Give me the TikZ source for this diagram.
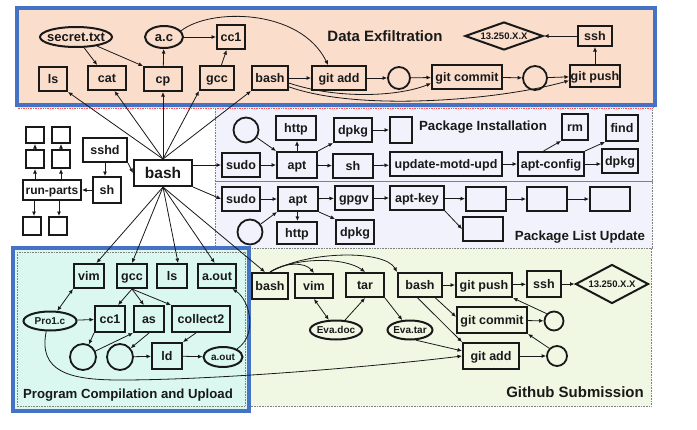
\documentclass[tikz,border=0pt]{standalone}
\usepackage{fontspec}
\setmainfont{Liberation Sans}
\usetikzlibrary{shapes.geometric,arrows.meta}
\newcommand\zb[1]{\makebox[0pt]{#1}}
\definecolor{peach}{RGB}{251,221,204}
\definecolor{lav}{RGB}{241,242,251}
\definecolor{lgreen}{RGB}{240,248,228}
\definecolor{lcyan}{RGB}{218,248,240}
\definecolor{frameblue}{RGB}{68,114,196}
\definecolor{ink}{RGB}{25,25,25}
\begin{document}
\begin{tikzpicture}[x=1pt,y=-1pt,
 bx/.style={draw=ink, text=ink, line width=2pt, inner sep=0pt, text height=8.8pt, text depth=0pt, font=\bfseries\fontsize{12.5}{12.5}\selectfont},
 wh/.style 2 args={minimum width=#1pt, minimum height=#2pt},
 el/.style={bx, ellipse},
 ci/.style={draw=ink, circle, line width=1.8pt, inner sep=0pt, minimum size=#1pt},
 dm/.style={bx, diamond, font=\bfseries\fontsize{9.5}{9.5}\selectfont, text height=6.8pt},
 sm/.style={font=\bfseries\fontsize{10}{10}\selectfont, text height=7.2pt},
 arr/.style={draw=ink, -{Latex[length=4.5pt,width=4pt]}, line width=0.8pt},
 darr/.style={draw=ink, {Latex[length=4.5pt,width=4pt]}-{Latex[length=4.5pt,width=4pt]}, line width=0.8pt},
 ttl/.style={text=ink, inner sep=0pt, font=\bfseries\fontsize{13.3}{13.3}\selectfont},
 region/.style={draw=gray, densely dotted, line width=0.6pt},
 frame/.style={draw=frameblue, line width=4pt},
]
\useasboundingbox (0,0) rectangle (697,429);
\fill[white] (0,0) rectangle (697,429);

% regions
\fill[lav] (215,106) rectangle (652,248);
\draw[region] (215,106) rectangle (652,181);
\draw[region] (215,181) rectangle (652,248);
\fill[lgreen] (215,248) rectangle (651,406);
\draw[region] (215,248) rectangle (651,406);
\fill[peach] (18,9) rectangle (653,108);
\draw[draw=red!70, densely dotted, line width=0.7pt] (18,9) rectangle (653,108);
\draw[frame] (17,8) rectangle (655,104.5);
\fill[lcyan] (13,248) rectangle (248.5,411);
\draw[region] (17,252) rectangle (245,406);
\draw[frame] (13,248) rectangle (248.5,411);

% ---------- Data Exfiltration
\node[el, wh={72}{20}, font=\bfseries\fontsize{13}{13}\selectfont] (secret) at (76,37) {\zb{secret.txt}};
\node[el, wh={38}{22}, font=\bfseries\fontsize{13}{13}\selectfont] (ac) at (164,37) {\zb{a.c}};
\node[bx, wh={28}{24}] (ecc1) at (231,37) {\zb{cc1}};
\node[bx, wh={28}{24}] (els) at (53,79) {\zb{ls}};
\node[bx, wh={38}{24}] (ecat) at (107,78) {\zb{cat}};
\node[bx, wh={38}{24}] (ecp) at (163,79) {\zb{cp}};
\node[bx, wh={34}{24}] (egcc) at (217,78) {\zb{gcc}};
\node[bx, wh={36}{24}] (ebash) at (270,78) {\zb{bash}};
\node[bx, wh={54}{24}] (egadd) at (339,78) {\zb{git add}};
\node[ci=22] (ec1) at (399,78) {};
\node[bx, wh={70}{24}] (egcm) at (467,77) {\zb{git commit}};
\node[ci=24] (ec2) at (535,78) {};
\node[bx, wh={50}{22}] (egps) at (595,76) {\zb{git push}};
\node[bx, wh={34}{20}] (essh) at (595,36) {\zb{ssh}};
\node[dm, wh={78}{28}] (eip) at (504,36) {\zb{13.250.X.X}};
\node[ttl, font=\bfseries\fontsize{15}{15}\selectfont] (t1) at (385,36) {Data Exfiltration};

\draw[arr] (secret) -- (ecat);
\draw[arr] (secret) -- (ecp.north west);
\draw[arr] (ecp) -- (ac);
\draw[arr] (ac) -- (ecc1);
\draw[arr] (egcc) -- (ecc1);
\draw[arr] (ac.20) .. controls (210,8) and (300,8) .. (egadd.130);
\draw[arr] (ebash) -- (egadd);
\draw[arr] (egadd) -- (ec1);
\draw[arr] (ec1) -- (egcm);
\draw[arr] (egcm) -- (ec2);
\draw[arr] (ec2) -- (egps);
\draw[arr] (ebash.-15) .. controls (340,100) and (400,96) .. (egcm.-170);
\draw[arr] (ebash.-25) .. controls (360,112) and (500,100) .. (egps.-170);
\draw[arr] (egps) -- (essh);
\draw[arr] (essh) -- (eip);

% ---------- left hub
\node[bx, wh={58}{26}, font=\bfseries\fontsize{15.5}{15.5}\selectfont, text height=11pt] (hub) at (163,173) {\zb{bash}};
\node[bx, wh={44}{24}] (sshd) at (105,150) {\zb{sshd}};
\node[bx, wh={28}{26}] (sh) at (107,190) {\zb{sh}};
\node[bx, wh={58}{20}, font=\bfseries\fontsize{12}{12}\selectfont] (runp) at (52,190) {\zb{run-parts}};
\node[bx, wh={18}{18}] (ru1) at (35,159) {};
\node[bx, wh={18}{18}] (ru2) at (61,159) {};
\node[bx, wh={18}{16}] (ru1u) at (35,135) {};
\node[bx, wh={18}{16}] (ru2u) at (61,135) {};
\node[bx, wh={18}{18}] (rd1) at (32,226) {};
\node[bx, wh={18}{18}] (rd2) at (58,226) {};

\draw[arr] (sshd.south east) -- (hub.west);
\draw[arr] (sshd.south) -- (sshd.south |- sh.north);
\draw[arr] (sh) -- (runp);
\draw[arr] (runp.north -| ru1) -- (ru1.south);
\draw[arr] (runp.north -| ru2) -- (ru2.south);
\draw[arr] (ru1) -- (ru1u);
\draw[arr] (ru2) -- (ru2u);
\draw[arr] (runp.south -| 34,0) -- (34,0 |- rd1.north);
\draw[arr] (runp.south -| 59,0) -- (59,0 |- rd2.north);

\draw[arr] (hub.north) -- (els.south east);
\draw[arr] (hub.north) -- (ecat.-60);
\draw[arr] (hub.north) -- (ecp.south);
\draw[arr] (hub.north) -- (egcc.south west);
\draw[arr] (hub.north) -- (ebash.south west);

% ---------- Package Installation
\node[ci=25] (pc) at (246,130) {};
\node[bx, wh={40}{24}] (phttp) at (296,128) {\zb{http}};
\node[bx, wh={38}{24}] (pdpkg) at (353,130) {\zb{dpkg}};
\node[bx, wh={22}{26}] (pbox) at (401,130) {};
\node[ttl] (t2) at (483,127) {Package Installation};
\node[bx, wh={26}{26}] (prm) at (575,127) {\zb{rm}};
\node[bx, wh={32}{26}] (pfind) at (622,128) {\zb{find}};
\node[bx, wh={38}{24}] (psudo) at (241,165) {\zb{sudo}};
\node[bx, wh={40}{26}] (papt) at (297,165) {\zb{apt}};
\node[bx, wh={40}{24}] (psh) at (353,166) {\zb{sh}};
\node[bx, wh={112}{24}] (pupd) at (446,164) {\zb{update-motd-upd}};
\node[bx, wh={66}{24}] (pcfg) at (551,164) {\zb{apt-config}};
\node[bx, wh={36}{24}] (pdpkg2) at (620,161) {\zb{dpkg}};

\draw[arr] (hub.east |- psudo) -- (psudo.west);
\draw[arr] (pc) -- (papt.north west);
\draw[arr] (papt.north) -- (papt.north |- phttp.south);
\draw[arr] (papt.north east) -- (pdpkg.south west);
\draw[arr] (pdpkg) -- (pbox);
\draw[arr] (psudo) -- (papt);
\draw[arr] (papt) -- (psh);
\draw[arr] (psh) -- (pupd);
\draw[arr] (pupd) -- (pcfg);
\draw[arr] (pcfg.120) -- (prm.south west);
\draw[arr] (pcfg.north east) -- (pfind.south west);
\draw[arr] (pcfg.east) -- (pdpkg2.west |- pcfg.east);

% ---------- Package List Update
\node[bx, wh={38}{24}] (lsudo) at (241,199) {\zb{sudo}};
\node[bx, wh={40}{24}] (lapt) at (298,199) {\zb{apt}};
\node[bx, wh={38}{24}] (lgpgv) at (354,198) {\zb{gpgv}};
\node[bx, wh={54}{24}] (lkey) at (417,198) {\zb{apt-key}};
\node[bx, wh={40}{24}] (lb1) at (486,199) {};
\node[bx, wh={40}{24}] (lb2) at (547,199) {};
\node[bx, wh={40}{24}] (lb3) at (610,199) {};
\node[bx, wh={40}{24}] (lb4) at (483,229) {};
\node[ci=25] (lc) at (250,232) {};
\node[bx, wh={40}{22}] (lhttp) at (297,233) {\zb{http}};
\node[bx, wh={38}{24}] (ldpkg) at (355,232) {\zb{dpkg}};
\node[ttl] (t3) at (580,237) {Package List Update};

\draw[arr] (hub.south east) -- (lsudo.west);
\draw[arr] (lsudo) -- (lapt);
\draw[arr] (lapt) -- (lgpgv);
\draw[arr] (lgpgv) -- (lkey);
\draw[arr] (lkey) -- (lb1);
\draw[arr] (lb1) -- (lb2);
\draw[arr] (lb2) -- (lb3);
\draw[arr] (lkey.south east) -- (lb4.west);
\draw[arr] (lapt) -- (lhttp);
\draw[arr] (lapt.south east) -- (ldpkg.north west);
\draw[arr] (lc) -- (lapt.south west);

% ---------- Program Compilation and Upload
\node[bx, wh={30}{24}] (cvim) at (89,276) {\zb{vim}};
\node[bx, wh={30}{24}] (cgcc) at (132,276) {\zb{gcc}};
\node[bx, wh={30}{24}] (cls) at (172,276) {\zb{ls}};
\node[bx, wh={38}{24}] (caout) at (217,276) {\zb{a.out}};
\node[el, sm, wh={53}{19}] (cpro) at (50,321) {\zb{Pro1.c}};
\node[bx, wh={30}{26}] (ccc1) at (110,319) {\zb{cc1}};
\node[bx, wh={30}{26}] (cas) at (149,319) {\zb{as}};
\node[bx, wh={58}{26}] (ccol) at (201,319) {\zb{collect2}};
\node[ci=26] (cc1) at (83,357) {};
\node[ci=26] (cc2) at (120,357) {};
\node[bx, wh={30}{26}] (cld) at (167,356) {\zb{ld}};
\node[el, sm, wh={39}{20}] (caoe) at (223,357) {\zb{a.out}};
\node[ttl, font=\bfseries\fontsize{13.2}{13.2}\selectfont] (t4) at (128,395) {Program Compilation and Upload};

\draw[arr] (hub.south) -- (cvim.60);
\draw[arr] (hub.south) -- (cgcc.north);
\draw[arr] (hub.south) -- (cls.65);
\draw[arr] (hub.south) -- (caout.100);
\draw[darr] (cvim.south west) -- (cpro);
\draw[arr] (cpro) -- (ccc1);
\draw[arr] (cgcc.south) -- (ccc1.60);
\draw[arr] (cgcc.south) -- (cas.110);
\draw[arr] (cgcc.south) -- (ccol.north west);
\draw[arr] (ccc1.south west) -- (cc1);
\draw[arr] (cc1) -- (cas.south west);
\draw[arr] (cas.south) -- (cc2);
\draw[arr] (cc2) -- (cld);
\draw[arr] (ccol.-110) -- (cld.north east);
\draw[arr] (cld) -- (caoe);
\draw[arr] (caoe.30) .. controls (258,335) and (250,300) .. (caout.-40);

% ---------- Github Submission
\node[bx, wh={36}{26}] (gbash) at (270,286) {\zb{bash}};
\node[bx, wh={38}{24}] (gvim) at (314,286) {\zb{vim}};
\node[bx, wh={38}{24}] (gtar) at (365,285) {\zb{tar}};
\node[bx, wh={44}{24}] (gbash2) at (420,285) {\zb{bash}};
\node[bx, wh={56}{24}] (gpush) at (484,285) {\zb{git push}};
\node[bx, wh={34}{26}] (gssh) at (544,284) {\zb{ssh}};
\node[dm, wh={73}{39}] (gip) at (612,284) {\zb{13.250.X.X}};
\node[el, sm, wh={52}{19}] (gdoc) at (336,330) {\zb{Eva.doc}};
\node[el, sm, wh={45}{19}] (gtarf) at (410,330) {\zb{Eva.tar}};
\node[bx, wh={70}{26}] (gcm) at (492,320) {\zb{git commit}};
\node[ci=19] (gcc1) at (554,321) {};
\node[bx, wh={56}{26}] (gadd) at (491,356) {\zb{git add}};
\node[ci=20] (gcc2) at (557,356) {};
\node[ttl, font=\bfseries\fontsize{15}{15}\selectfont] (t5) at (575,392) {Github Submission};

\draw[arr] (hub.south) -- (gbash.110);
\draw[arr] (gbash.north) .. controls (285,262) and (305,262) .. (gvim.north);
\draw[arr] (gbash.north) .. controls (295,257) and (345,257) .. (gtar.north);
\draw[arr] (gbash.north) .. controls (310,250) and (385,250) .. (gbash2.north west);
\draw[darr] (gvim.south) -- (gdoc);
\draw[arr] (gdoc) -- (gtar.south);
\draw[arr] (gtar.south east) -- (gtarf);
\draw[arr] (gtarf.-60) -- (gadd.170);
\draw[arr] (gbash2) -- (gpush);
\draw[arr] (gpush) -- (gssh);
\draw[arr] (gssh) -- (gip);
\draw[arr] (gbash2.-40) -- (gcm.175);
\draw[arr] (gbash2.-100) -- (gadd.north west);
\draw[arr] (gcm) -- (gcc1);
\draw[arr] (gcc1.north west) -- (gpush.south east);
\draw[arr] (gadd) -- (gcc2);
\draw[arr] (gcc2.north west) -- (gcm.south east);
\draw[arr] (cpro.-110) .. controls (38,372) and (70,380) .. (120,380) .. controls (220,380) and (380,366) .. (gadd.west);
\end{tikzpicture}
\end{document}
